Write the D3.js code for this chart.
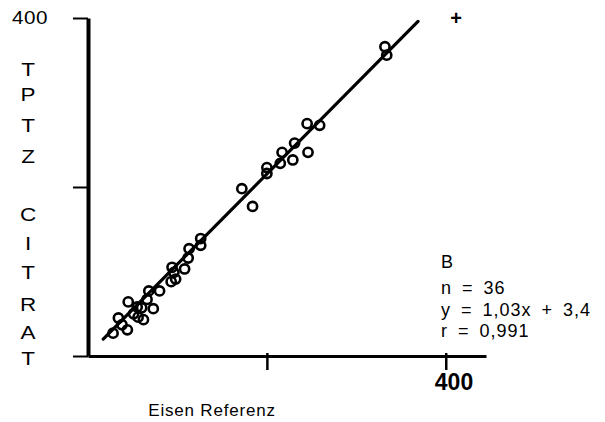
<!DOCTYPE html>
<html>
<head>
<meta charset="utf-8">
<script src="https://cdn.jsdelivr.net/npm/d3@7"></script>
<style>
  body { margin: 0; background: #fff; }
  text { font-family: "Liberation Sans", Arial, sans-serif; fill: #000; }
</style>
</head>
<body>
<svg id="chart" width="605" height="422"></svg>
<script>
// data (Eisen Referenz vs TPTZ Citrat)
const eisenRef = [28, 44, 34, 45, 51, 62, 60, 66, 73, 68, 80, 93, 94, 108, 112, 113, 126, 126, 38, 55, 98, 96, 56,
                  172, 184, 200, 200, 215, 217, 229, 231, 246, 245, 259, 332, 334];
const tptzCitrat = [27, 31, 45, 64, 50, 43, 57, 67, 56, 77, 77, 88, 105, 103, 116, 127, 139, 131, 37, 58, 91, 99, 46,
                    198, 177, 223, 216, 228, 241, 232, 252, 241, 275, 273, 366, 356];
const fitX = [17, 369];
const fitY = [20, 396];
const yLabel = ["T", "P", "T", "Z", "C", "I", "T", "R", "A", "T"];
const statLines = ["B", "n = 36", "y = 1,03x + 3,4", "r = 0,991"];

const svg = d3.select("#chart");

const x = d3.scaleLinear().domain([0, 445]).range([88, 486]);
const y = d3.scaleLinear().domain([0, 400]).range([356, 18]);

// axes
const xAxis = svg.append("g")
    .attr("transform", `translate(0,${y(0)})`)
    .call(d3.axisBottom(x).tickValues([200, 400]).tickSize(14).tickSizeOuter(0).tickFormat(""));
xAxis.select(".domain").attr("stroke-width", 3);
xAxis.selectAll(".tick line").attr("stroke-width", 2.5).attr("y1", -3);

const yAxis = svg.append("g")
    .attr("transform", `translate(${x(0)},0)`)
    .call(d3.axisLeft(y).tickValues([0, 200, 400]).tickSize(15).tickSizeOuter(0).tickFormat(""));
yAxis.select(".domain").attr("stroke-width", 4);
yAxis.selectAll(".tick line").attr("stroke-width", 2);

// regression line
svg.append("line")
    .attr("x1", x(fitX[0])).attr("y1", y(fitY[0]))
    .attr("x2", x(fitX[1])).attr("y2", y(fitY[1]))
    .attr("stroke", "#000")
    .attr("stroke-width", 3.2)
    .attr("stroke-linecap", "round");

// points
svg.selectAll("circle.pt").data(eisenRef)
    .join("circle")
    .attr("class", "pt")
    .attr("cx", d => x(d))
    .attr("cy", (d, i) => y(tptzCitrat[i]))
    .attr("r", 4.6)
    .attr("fill", "none")
    .attr("stroke", "#000")
    .attr("stroke-width", 2.6);

// labels
svg.append("text")
    .text("400")
    .attr("transform", "translate(30,24) scale(1.15,1)")
    .attr("text-anchor", "middle")
    .style("font-size", "18px")
    .style("letter-spacing", "0.5px");

svg.append("text")
    .text("400")
    .attr("x", 454).attr("y", 390)
    .attr("text-anchor", "middle")
    .style("font-size", "23px")
    .style("font-weight", "bold");

svg.append("text")
    .text("+")
    .attr("x", 456).attr("y", 25)
    .attr("text-anchor", "middle")
    .style("font-size", "20px")
    .style("font-weight", "bold");

const yLetterPos = [69, 94, 125, 156, 214, 243, 272, 304, 332, 358];
yLabel.forEach((d, i) => {
    svg.append("text")
        .text(d)
        .attr("transform", `translate(28,${yLetterPos[i] + 6.5}) scale(1.25,1)`)
        .attr("text-anchor", "middle")
        .style("font-size", "18px");
});

svg.append("text")
    .text("Eisen Referenz")
    .attr("x", 212).attr("y", 416)
    .attr("text-anchor", "middle")
    .style("font-size", "17px")
    .style("letter-spacing", "0.8px");

const statBase = [268, 294, 316, 337];
statLines.forEach((d, i) => {
    svg.append("text")
        .text(d)
        .attr("x", 441)
        .attr("y", statBase[i])
        .style("font-size", "18px")
        .style("letter-spacing", "1px")
        .style("word-spacing", "4px");
});
</script>
</body>
</html>
